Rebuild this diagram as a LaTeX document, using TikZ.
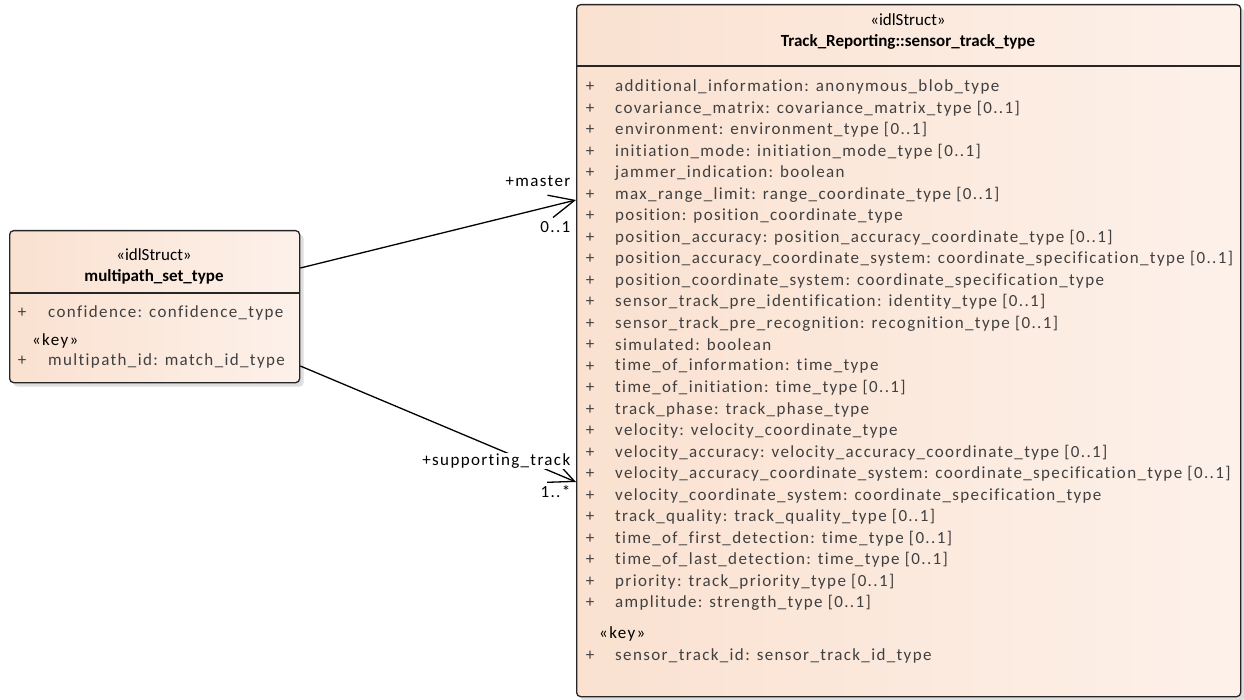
\documentclass[tikz,border=0pt]{standalone}
\usepackage{fontspec}
\setmainfont{Carlito}
\newfontfamily\easpaced[LetterSpace=8,Ligatures={NoCommon}]{Carlito}
\usetikzlibrary{positioning,arrows.meta,shadows}

\definecolor{eapeach}{RGB}{250,225,208}
\definecolor{eapale}{RGB}{253,241,234}
\definecolor{eatext}{RGB}{64,64,64}

\tikzset{
  classbox/.style={draw=black!85, line width=1.3pt, rounded corners=4pt,
    left color=eapeach, right color=eapale, inner sep=0pt,
    drop shadow={shadow xshift=4pt, shadow yshift=-4pt, fill=black!25}},
  umltext/.style={font=\fontsize{17}{20}\selectfont, inner sep=0pt},
  spacedtext/.style={font=\fontsize{17}{20}\easpaced, inner sep=0pt},
  stereo/.style={umltext},
  classname/.style={umltext, font=\fontsize{17}{20}\selectfont\bfseries},
  attr/.style={spacedtext, text=eatext, anchor=west},
  plus/.style={spacedtext, text=eatext},
  keylabel/.style={spacedtext, anchor=west},
  role/.style={spacedtext, anchor=east, inner sep=0.5pt},
  assoc/.style={line width=1.3pt, -{Straight Barb[length=25pt,width=23pt,line width=1.3pt]}}
}

\begin{document}
\begin{tikzpicture}[x=1pt,y=-1pt]
\useasboundingbox (0,0) rectangle (1244,700);

% boxes
\node[classbox, anchor=north west, minimum width=664pt, minimum height=692pt] (sensor) at (576,4) {};
\node[classbox, anchor=north west, minimum width=290pt, minimum height=152pt] (multipath) at (9,230) {};

% sensor_track_type
\node[stereo] (sensor-stereo) at (908,20) {«idlStruct»};
\node[classname] (sensor-name) at (908,42) {Track\_Reporting::sensor\_track\_type};
\draw[line width=1.3pt, black!85] (sensor.west |- 0,66) -- (sensor.east |- 0,66);

\foreach \attrib [count=\i from 0] in {
  {additional\_information: anonymous\_blob\_type},
  {covariance\_matrix: covariance\_matrix\_type [0..1]},
  {environment: environment\_type [0..1]},
  {initiation\_mode: initiation\_mode\_type [0..1]},
  {jammer\_indication: boolean},
  {max\_range\_limit: range\_coordinate\_type [0..1]},
  {position: position\_coordinate\_type},
  {position\_accuracy: position\_accuracy\_coordinate\_type [0..1]},
  {position\_accuracy\_coordinate\_system: coordinate\_specification\_type [0..1]},
  {position\_coordinate\_system: coordinate\_specification\_type},
  {sensor\_track\_pre\_identification: identity\_type [0..1]},
  {sensor\_track\_pre\_recognition: recognition\_type [0..1]},
  {simulated: boolean},
  {time\_of\_information: time\_type},
  {time\_of\_initiation: time\_type [0..1]},
  {track\_phase: track\_phase\_type},
  {velocity: velocity\_coordinate\_type},
  {velocity\_accuracy: velocity\_accuracy\_coordinate\_type [0..1]},
  {velocity\_accuracy\_coordinate\_system: coordinate\_specification\_type [0..1]},
  {velocity\_coordinate\_system: coordinate\_specification\_type},
  {track\_quality: track\_quality\_type [0..1]},
  {time\_of\_first\_detection: time\_type [0..1]},
  {time\_of\_last\_detection: time\_type [0..1]},
  {priority: track\_priority\_type [0..1]},
  {amplitude: strength\_type [0..1]}}
{
  \node[plus] (sensor-plus-\i) at (590,87+21.5*\i) {+};
  \node[attr] (sensor-attr-\i) at (615,87+21.5*\i) {\attrib};
}
\node[keylabel] (sensor-key) at (599,634) {«key»};
\node[plus] (sensor-plus-key) at (590,656) {+};
\node[attr] (sensor-attr-key) at (615,656) {sensor\_track\_id: sensor\_track\_id\_type};

% multipath_set_type
\node[stereo] (mp-stereo) at (154,255) {«idlStruct»};
\node[classname] (mp-name) at (154,277) {multipath\_set\_type};
\draw[line width=1.3pt, black!85] (multipath.west |- 0,293) -- (multipath.east |- 0,293);
\node[plus] (mp-plus-1) at (22,313) {+};
\node[attr] (mp-attr-1) at (48,313) {confidence: confidence\_type};
\node[keylabel] (mp-key) at (32,341) {«key»};
\node[plus] (mp-plus-2) at (22,361) {+};
\node[attr] (mp-attr-2) at (48,361) {multipath\_id: match\_id\_type};

% associations
\coordinate (mp-master) at (multipath.east |- 0,268);
\coordinate (st-master) at (sensor.west |- 0,200);
\coordinate (mp-support) at (multipath.east |- 0,366);
\coordinate (st-support) at (sensor.west |- 0,482);
\draw[assoc] (mp-master) -- (st-master);
\draw[assoc] (mp-support) -- (st-support);

\node[role] (master-role) at (571,181) {+master};
\node[role] (master-mult) at (571,227) {0..1};
\node[role, fill=white] (support-role) at (571,461) {+supporting\_track};
\node[role] (support-mult) at (571,492) {1..*};
\end{tikzpicture}
\end{document}
